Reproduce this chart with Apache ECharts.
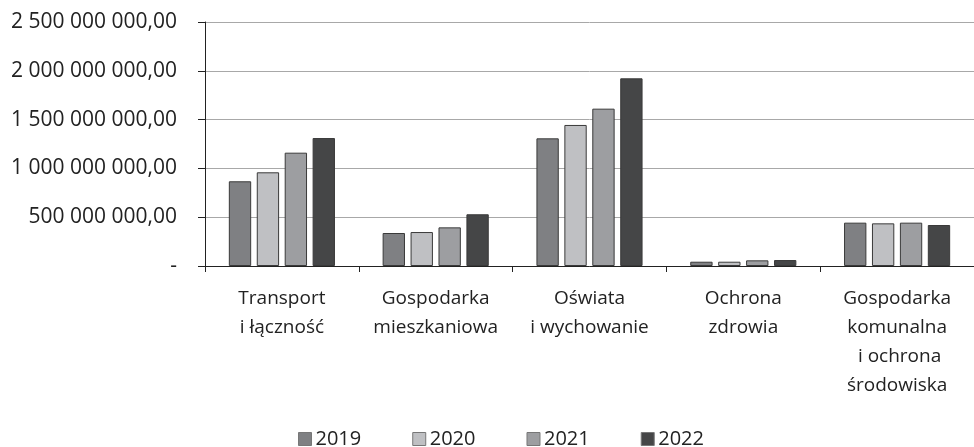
<!DOCTYPE html>
<html>
<head>
<meta charset="utf-8">
<script src="https://cdn.jsdelivr.net/npm/echarts@6/dist/echarts.min.js"></script>
<style>
	html, body { margin: 0; padding: 0; background: #fff; }
	#chart { width: 974px; height: 447px; }
</style>
</head>
<body>
<div id="chart"></div>
<script>
var kategorie = ['Transport\ni łączność', 'Gospodarka\nmieszkaniowa', 'Oświata\ni wychowanie', 'Ochrona\nzdrowia', 'Gospodarka\nkomunalna\n i ochrona\nśrodowiska'];
var lata = ['2019', '2020', '2021', '2022'];
var w2019 = [868000000, 338000000, 1308000000, 44000000, 444000000];
var w2020 = [960000000, 348000000, 1445000000, 44000000, 437000000];
var w2021 = [1161000000, 396000000, 1612000000, 58000000, 444000000];
var w2022 = [1311000000, 530000000, 1923000000, 61000000, 420000000];
var kolory = ['#7f8083', '#bfc0c3', '#9d9ea1', '#454647'];

var font = 'Open Sans';

// formatowanie osi: 1 500 000 000,00
function fmt(v) {
	if (v == 0) return '-';
	var s = String(Math.round(v));
	var out = '';
	while (s.length > 3) {
		out = ' ' + s.slice(-3) + out;
		s = s.slice(0, -3);
	}
	return s + out + ',00';
}

var dane = [w2019, w2020, w2021, w2022];
var serie = [];
for (var i = 0; i < lata.length; i++) {
	serie.push({
		name: lata[i],
		type: 'bar',
		data: dane[i],
		barGap: '25%',
		barCategoryGap: '31%',
		itemStyle: {
			color: kolory[i],
			borderColor: '#3a3a3a',
			borderWidth: 1
		}
	});
}

var chart = echarts.init(document.getElementById('chart'));
chart.setOption({
	animation: false,
	textStyle: { fontFamily: font },
	grid: {
		left: 205,
		top: 22,
		width: 775,
		height: 244
	},
	legend: {
		data: lata,
		top: 424,
		left: 293,
		icon: 'rect',
		itemWidth: 13,
		itemHeight: 13,
		itemGap: 51,
		itemStyle: { borderColor: '#777', borderWidth: 1 },
		textStyle: { fontFamily: font, fontSize: 20, color: '#222', padding: [0, 0, 0, -1] }
	},
	xAxis: {
		type: 'category',
		data: kategorie,
		axisLine: { lineStyle: { color: '#222', width: 1 } },
		axisTick: { show: true, length: 6, lineStyle: { color: '#222' } },
		axisLabel: {
			interval: 0,
			margin: 18,
			fontSize: 19,
			lineHeight: 29,
			color: '#222',
			fontFamily: font
		}
	},
	yAxis: {
		type: 'value',
		min: 0,
		max: 2500000000,
		interval: 500000000,
		axisLine: { show: true, lineStyle: { color: '#222', width: 1 } },
		axisTick: { show: true, length: 7, lineStyle: { color: '#222' } },
		splitLine: { lineStyle: { color: '#a8a8a8', width: 1 } },
		axisLabel: {
			formatter: fmt,
			margin: 28,
			fontSize: 21,
			color: '#222',
			fontFamily: font
		}
	},
	series: serie
});
</script>
</body>
</html>
